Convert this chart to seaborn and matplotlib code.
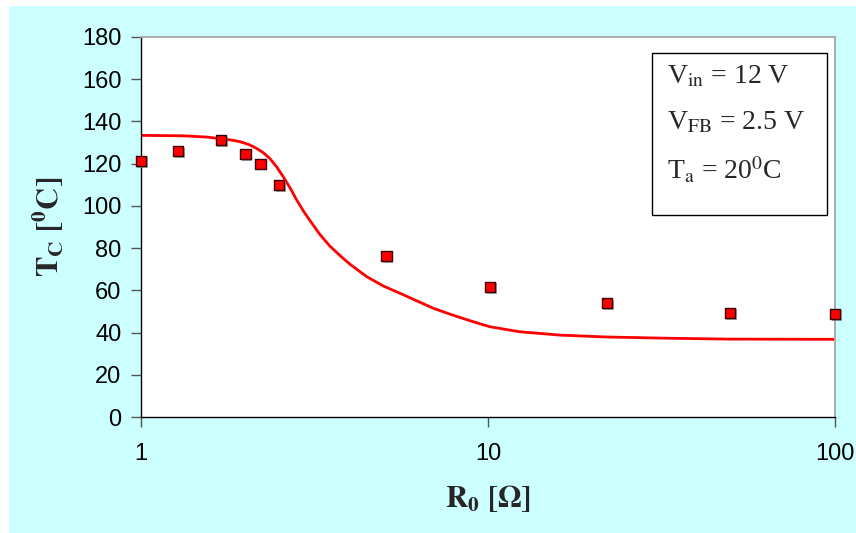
import numpy as np
import pandas as pd
import matplotlib
matplotlib.use("Agg")
import matplotlib.pyplot as plt
import matplotlib.patheffects as pe
from matplotlib.patches import Rectangle
from matplotlib.ticker import NullLocator
import seaborn as sns

# measured points (R0 in ohm, case temperature in degC)
r_meas = [1.0, 1.28, 1.70, 2.0, 2.21, 2.50, 5.10, 10.15, 22.0, 49.8, 100.0]
t_meas = [121.4, 126.0, 131.2, 124.6, 120.0, 110.0, 76.4, 61.6, 54.0, 49.3, 48.9]

# model curve
r_model = [1.0, 1.32, 1.55, 1.69, 1.82, 1.93, 2.05, 2.15, 2.25, 2.35, 2.46, 2.57,
           2.69, 2.81, 2.94, 3.07, 3.28, 3.5, 3.75, 4.0, 4.47, 5.0, 5.58, 6.2,
           6.96, 7.9, 9.0, 10.1, 12.3, 16.1, 22.0, 33.4, 49.8, 100.0]
t_model = [133.4, 133.2, 132.6, 131.8, 131.2, 130.4, 129.0, 127.3, 125.2, 122.5, 118.5, 113.8,
           108.5, 102.8, 97.5, 93.0, 86.4, 81.0, 76.4, 72.4, 66.5, 62.0, 58.6, 55.2,
           51.5, 48.3, 45.3, 42.8, 40.4, 38.8, 37.9, 37.3, 36.9, 36.8]

y_ticks = list(range(0, 181, 20))
x_ticks = [1, 10, 100]
x_ticklabels = ["1", "10", "100"]

box_lines = [r"V$_{\mathrm{in}}$ = 12 V",
             r"V$_{\mathrm{FB}}$ = 2.5 V",
             r"T$_{\mathrm{a}}$ = 20$^{\mathrm{0}}$C"]

sns.set_theme(style="white")
plt.rcParams["font.family"] = ["Liberation Sans", "DejaVu Sans"]
plt.rcParams["mathtext.fontset"] = "stix"

fig = plt.figure(figsize=(8.56, 5.33), dpi=100)
fig.patch.set_facecolor("white")
# cyan chart area (leaves a thin white strip left and top)
fig.add_artist(Rectangle((9 / 856, 0), 1 - 9 / 856, 1 - 6 / 533,
                         transform=fig.transFigure, facecolor="#ccffff",
                         edgecolor="none", zorder=-10))

ax = fig.add_axes([0.1647, 0.2176, 0.8108, 0.713])
ax.set_facecolor("white")

curve = pd.DataFrame({"R0": r_model, "Tc": t_model})
meas = pd.DataFrame({"R0": r_meas, "Tc": t_meas})

sns.lineplot(data=curve, x="R0", y="Tc", color="#ff0000", lw=2.0, ax=ax, zorder=2)
sns.scatterplot(data=meas, x="R0", y="Tc", marker="s", s=55, color="#ff0000",
                edgecolor="#3a0000", linewidth=1.0, ax=ax, zorder=3)
pts = ax.collections[-1]
pts.set_clip_on(False)
pts.set_path_effects([pe.SimplePatchShadow(offset=(1.2, -1.2), shadow_rgbFace="#808080", alpha=0.7),
                      pe.Normal()])

ax.set_xscale("log")
ax.set_xlim(1, 100)
ax.set_ylim(0, 180)
ax.set_xticks(x_ticks)
ax.set_xticklabels(x_ticklabels)
ax.xaxis.set_minor_locator(NullLocator())
ax.set_yticks(y_ticks)

ax.tick_params(axis="both", which="major", bottom=True, left=True, direction="out",
               length=7, width=1, color="#555555", labelsize=17, labelcolor="black")
ax.tick_params(axis="x", pad=12)
ax.tick_params(axis="y", pad=7)

for side in ["left", "bottom"]:
    ax.spines[side].set_color("black")
    ax.spines[side].set_linewidth(1.0)
for side in ["top", "right"]:
    ax.spines[side].set_color("#a6a6a6")
    ax.spines[side].set_linewidth(1.3)

ax.set_xlabel(r"$\mathbf{R_0\ [\Omega]}$", fontsize=22)
ax.set_ylabel(r"$\mathbf{T_C\ [^0C]}$", fontsize=22)
ax.xaxis.set_label_coords(0.5, -0.175)
ax.yaxis.set_label_coords(-0.108, 0.5)

# parameter box
ax.add_patch(Rectangle((0.736, 0.532), 0.252, 0.426, transform=ax.transAxes,
                       facecolor="white", edgecolor="black", lw=1.0, zorder=4))
for txt, yb in zip(box_lines, [0.879, 0.758, 0.624]):
    ax.text(0.758, yb, txt, transform=ax.transAxes, fontsize=20,
            family=["Liberation Serif", "DejaVu Serif"],
            ha="left", va="baseline", zorder=5)

fig.savefig("out.png", dpi=100)
